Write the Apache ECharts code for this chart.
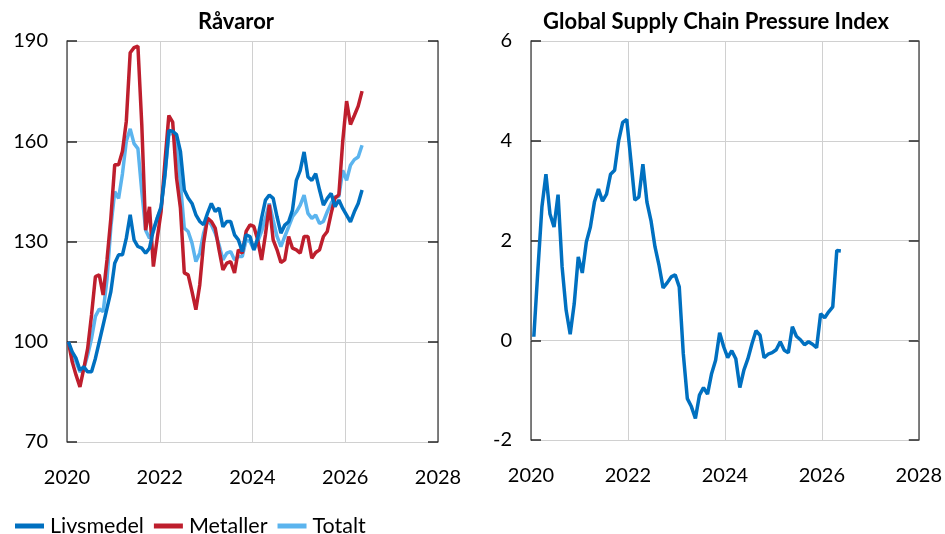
<!DOCTYPE html>
<html>
<head>
<meta charset="utf-8">
<script src="https://cdn.jsdelivr.net/npm/echarts@6/dist/echarts.min.js"></script>
<style>
html,body{margin:0;padding:0;background:#fff;}
#chart{width:945px;height:534px;}
</style>
</head>
<body>
<div id="chart"></div>
<script>
// ---- Data (monthly, Jan 2020 – May 2026) ----
const startYear = 2020;
const startMonth = 1;

const seriesNames = ['Livsmedel', 'Metaller', 'Totalt'];

const livsmedel = [100,97,95,91.5,92.5,91,91,95,100,105,110,115,123.5,126,126,131,138,130.5,128.5,128,126.5,128,
  133.4,137,140.4,150,163.2,163,162,157,145.4,143,141.4,138,136,135,138.4,141.4,139,140,134.4,136,136,132,130.5,127,132,131.5,
  127.5,131,137,142.4,143.9,142.9,137.4,132.5,134.9,135.9,139.4,148.3,151.3,156.8,149.3,148.3,150.3,145.4,140.9,142.9,144.4,140.4,142.4,139.9,137.9,135.9,138.9,141.4,145.4];

const metaller = [100,94,90,86.5,92,98,108,119.5,120,114,
  124.5,137,153,153,157,166,186.5,188,188.5,165,
  133.4,140.4,122.5,131,139,154,167.7,165.7,149,140,
  120.6,120,115,109.6,117,129.5,137,136,134,127.5,
  121.5,123.5,124,120.6,127.5,126.5,133,135,134.5,130.5,
  124.5,132,141,130.5,127.5,123.7,124.5,131.5,128,127.5,
  126.5,131.5,131.5,125,126.7,127.5,131.5,133,138.4,143,
  144,160,172,165,167.7,170.5,175];

const totalt = [100,96,94,91,92,96,101,107.6,109.8,109,
  118.6,134.4,144.9,142.9,150.3,160,163.7,159.3,157.8,145,
  133.4,131,133,137,140,150,162,162.5,160,147.4,
  134,133,129.5,124,126.5,132.5,136.4,135,132.5,129,
  124.5,126.5,127,124.5,125.5,125.5,130.5,130,127.5,130,
  133,137,141.4,136.4,131.5,128.5,131.5,134.4,137.4,138.9,
  140.9,143.9,138.4,136.9,137.9,135.4,136,138.9,141.4,143.4,
  143.5,151.3,148.3,152.8,154.5,155.3,158.8];

const gscpi = [0.07,1.4,2.67,3.33,2.53,2.27,2.92,1.47,0.6,0.12,
  0.73,1.67,1.35,1.97,2.27,2.77,3.03,2.79,2.93,3.33,
  3.41,4.0,4.37,4.43,3.63,2.81,2.87,3.53,2.77,2.4,
  1.87,1.5,1.05,1.15,1.27,1.31,1.07,-0.27,-1.17,-1.33,
  -1.57,-1.1,-0.95,-1.08,-0.67,-0.4,0.15,-0.13,-0.35,-0.21,
  -0.37,-0.95,-0.6,-0.37,-0.07,0.19,0.1,-0.35,-0.28,-0.25,
  -0.19,-0.03,-0.2,-0.25,0.27,0.08,0.01,-0.09,-0.03,-0.08,
  -0.15,0.53,0.45,0.57,0.67,1.8,1.79];

const leftTitle = 'Råvaror';
const rightTitle = 'Global Supply Chain Pressure Index';
const xTicks = [2020, 2022, 2024, 2026, 2028];
const leftYTicks = [70, 100, 130, 160, 190];
const rightYTicks = [-2, 0, 2, 4, 6];

// month position within month (fraction) for each panel
const leftOffset = 0.35;
const rightOffset = 0.7;

function toPairs(values, offset) {
  return values.map((v, i) => {
    const m = (startMonth - 1) + i + offset;
    return [startYear + m / 12, v];
  });
}

const colors = {Livsmedel: '#0070C0', Metaller: '#BE1E2D', Totalt: '#5BB4EE'};
const FONT = 'Lato, "Open Sans", sans-serif';

const chart = echarts.init(document.getElementById('chart'), null, {renderer: 'canvas'});

function xAxisCfg(gridIndex) {
  return {
    type: 'value', gridIndex: gridIndex,
    min: xTicks[0], max: xTicks[xTicks.length - 1], interval: 2,
    axisLine: {show: true, lineStyle: {color: '#D0D0D0', width: 1}},
    axisTick: {show: false},
    axisLabel: {color: '#000', fontSize: 20, fontFamily: FONT, margin: 26, formatter: v => String(v)},
    splitLine: {show: true, lineStyle: {color: '#D0D0D0', width: 1}}
  };
}
function yAxisCfg(gridIndex, ticks, position, showLabel, margin) {
  return {
    type: 'value', gridIndex: gridIndex, position: position,
    min: ticks[0], max: ticks[ticks.length - 1], interval: ticks[1] - ticks[0],
    axisLine: {show: true, onZero: false, lineStyle: {color: '#595959', width: 1.5}},
    axisTick: {show: true, inside: true, length: 10, lineStyle: {color: '#262626', width: 1.5}},
    axisLabel: {show: showLabel, color: '#000', fontSize: 20, fontFamily: FONT, margin: margin},
    splitLine: {show: showLabel, lineStyle: {color: '#D0D0D0', width: 1}}
  };
}

const option = {
  animation: false,
  backgroundColor: '#fff',
  grid: [
    {left: 67, top: 41, width: 371, height: 401},
    {left: 531, top: 41, width: 389, height: 399}
  ],
  xAxis: [xAxisCfg(0), xAxisCfg(1)],
  yAxis: [
    yAxisCfg(0, leftYTicks, 'left', true, 19),
    yAxisCfg(0, leftYTicks, 'right', false, 0),
    yAxisCfg(1, rightYTicks, 'left', true, 19),
    yAxisCfg(1, rightYTicks, 'right', false, 0)
  ],
  legend: {
    left: 10, top: 510,
    icon: 'rect', itemWidth: 29, itemHeight: 5, itemGap: 10,
    textStyle: {fontSize: 21.5, color: '#000', fontFamily: FONT, padding: [0, 0, 0, 1]},
    data: seriesNames
  },
  graphic: [
    {type: 'text', x: 236, y: 22, style: {text: leftTitle, fill: '#000', font: 'bold 22px ' + FONT, align: 'center', verticalAlign: 'middle', textAlign: 'center', textVerticalAlign: 'middle'}},
    {type: 'text', x: 716, y: 22, style: {text: rightTitle, fill: '#000', font: 'bold 22px ' + FONT, align: 'center', verticalAlign: 'middle', textAlign: 'center', textVerticalAlign: 'middle'}}
  ],
  series: [
    {name: 'Livsmedel', type: 'line', xAxisIndex: 0, yAxisIndex: 0, data: toPairs(livsmedel, leftOffset), showSymbol: false, lineStyle: {width: 3.5, color: colors.Livsmedel}, itemStyle: {color: colors.Livsmedel}, z: 3},
    {name: 'Metaller', type: 'line', xAxisIndex: 0, yAxisIndex: 0, data: toPairs(metaller, leftOffset), showSymbol: false, lineStyle: {width: 3.5, color: colors.Metaller}, itemStyle: {color: colors.Metaller}, z: 2},
    {name: 'Totalt', type: 'line', xAxisIndex: 0, yAxisIndex: 0, data: toPairs(totalt, leftOffset), showSymbol: false, lineStyle: {width: 3.5, color: colors.Totalt}, itemStyle: {color: colors.Totalt}, z: 1},
    {name: 'GSCPI', type: 'line', xAxisIndex: 1, yAxisIndex: 2, data: toPairs(gscpi, rightOffset), showSymbol: false, lineStyle: {width: 3.5, color: colors.Livsmedel}, itemStyle: {color: colors.Livsmedel}}
  ]
};
chart.setOption(option);
</script>
</body>
</html>
